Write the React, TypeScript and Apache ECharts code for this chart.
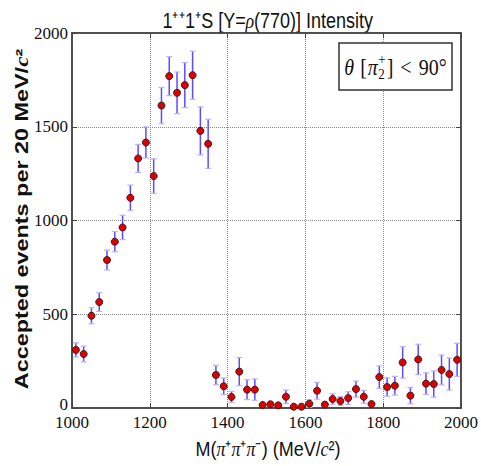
import React, { useEffect, useRef } from 'react';
import * as echarts from 'echarts';

// Bin centres (MeV/c^2), 20 MeV bins
const masses = [
  1010, 1030, 1050, 1070, 1090, 1110, 1130, 1150, 1170, 1190,
  1210, 1230, 1250, 1270, 1290, 1310, 1330, 1350, 1370, 1390,
  1410, 1430, 1450, 1470, 1490, 1510, 1530, 1550, 1570, 1590,
  1610, 1630, 1650, 1670, 1690, 1710, 1730, 1750, 1770, 1790,
  1810, 1830, 1850, 1870, 1890, 1910, 1930, 1950, 1970, 1990,
];
// Accepted events per bin
const counts = [
  310, 288, 492, 565, 789, 887, 963, 1121, 1331, 1416,
  1237, 1613, 1770, 1681, 1722, 1775, 1478, 1409, 176, 116,
  59, 194, 98, 98, 16, 20, 14, 60, 7, 7,
  23, 92, 18, 48, 37, 53, 101, 60, 21, 165,
  112, 119, 243, 66, 259, 130, 128, 203, 181, 257,
];
// Statistical errors (half-length of bars)
const errors = [
  38, 42, 43, 50, 53, 54, 65, 68, 75, 83,
  92, 97, 104, 111, 120, 128, 128, 131, 52, 44,
  30, 75, 53, 57, 8, 8, 6, 36, 5, 5,
  21, 45, 8, 28, 23, 34, 43, 34, 10, 60,
  49, 50, 84, 44, 81, 58, 70, 80, 86, 88,
];

const xMin = 1000, xMax = 2000, xStep = 200;
const yMin = 0, yMax = 2000, yStep = 500;

const titleText = '1⁺⁺1⁺S [Y={i|ρ}(770)] Intensity';
const xNameText = 'M({i|π}⁺{i|π}⁺{i|π}⁻) (MeV/{i|c}²)';
const yNameText = 'Accepted events per 20 MeV/{i|c}²';

function measure(text: string, font: string): number {
  const c = document.createElement('canvas').getContext('2d');
  if (!c) return text.length * 8;
  c.font = font;
  return c.measureText(text).width;
}

export default function App() {
  const ref = useRef<HTMLDivElement>(null);

  useEffect(() => {
    const chart = echarts.init(ref.current!, null, { renderer: 'svg' });

    // Legend box text layout
    const fs = 20;
    const fsSmall = 13;
    const serif = '"Liberation Serif", "DejaVu Serif", serif';
    const fItal = `italic ${fs}px ${serif}`;
    const fNorm = `${fs}px ${serif}`;
    const fSmall = `${fsSmall}px ${serif}`;
    const pieces: any[] = [];
    let cx = 0;
    const add = (t: string, font: string, italic: boolean) => {
      const w = measure(t, font);
      pieces.push({ t, x: cx, dy: 0, italic, size: fs });
      cx += w;
      return w;
    };
    add('θ', fItal, true);
    cx += 6;
    add('[', fNorm, false);
    cx += 1;
    add('π', fItal, true);
    const supW = measure('+', fSmall);
    const subW = measure('2', fSmall);
    pieces.push({ t: '+', x: cx + 0.5, dy: -7, italic: false, size: fsSmall });
    pieces.push({ t: '2', x: cx + 0.5, dy: 6, italic: false, size: fsSmall });
    cx += Math.max(supW, subW) + 1.5;
    add(']', fNorm, false);
    cx += 7;
    add('<', fNorm, false);
    cx += 7;
    add('90°', fNorm, false);
    const total = cx;
    const boxX = 339, boxY = 43, boxW = 113, boxH = 47;
    const startX = boxX + boxW / 2 - total / 2;
    const legendChildren = pieces.map((p) => ({
      type: 'text',
      x: startX + p.x,
      y: p.dy,
      z: 20,
      style: {
        text: p.t,
        fontFamily: 'Liberation Serif',
        fontStyle: p.italic ? 'italic' : 'normal',
        fontSize: p.size,
        fill: '#111',
        align: 'left',
        verticalAlign: 'middle',
      },
    }));

    const errData = masses.map((m, i) => [m, counts[i], errors[i]]);
    const ptData = masses.map((m, i) => [m, counts[i]]);

    const frameColor = '#444';
    const plain = (v: number) => String(v);
    const yFmt = (v: number) => (v === yMin ? `{z|${v}}` : String(v));

    const option: any = {
      animation: false,
      backgroundColor: '#fff',
      grid: {
        left: 72, right: 16, top: 33, bottom: 58,
        show: true, borderColor: frameColor, borderWidth: 1.5,
        backgroundColor: '#fff',
      },
      xAxis: [
        {
          type: 'value', min: xMin, max: xMax, interval: xStep, position: 'bottom',
          axisLine: { show: true, onZero: false, lineStyle: { color: frameColor, width: 1.5 } },
          axisTick: { show: true, inside: true, length: 5, lineStyle: { color: frameColor } },
          axisLabel: {
            color: '#111', fontFamily: 'Liberation Serif', fontSize: 17, margin: 8, lineHeight: 13,
            showMinLabel: true, showMaxLabel: true, formatter: plain,
          },
          splitLine: { show: true, lineStyle: { type: 'dotted', color: '#8a8a8a', width: 1 } },
        },
        {
          type: 'value', min: xMin, max: xMax, interval: xStep, position: 'top',
          axisLine: { show: true, onZero: false, lineStyle: { color: frameColor, width: 1.5 } },
          axisTick: { show: true, inside: true, length: 5, lineStyle: { color: frameColor } },
          axisLabel: { show: false },
          splitLine: { show: false },
        },
      ],
      yAxis: [
        {
          type: 'value', min: yMin, max: yMax, interval: yStep, position: 'left',
          axisLine: { show: true, onZero: false, lineStyle: { color: frameColor, width: 1.5 } },
          axisTick: { show: true, inside: true, length: 5, lineStyle: { color: frameColor } },
          axisLabel: {
            color: '#111', fontFamily: 'Liberation Serif', fontSize: 17, margin: 4, lineHeight: 13,
            showMinLabel: true, showMaxLabel: true, formatter: yFmt,
            rich: {
              z: {
                color: '#111', fontFamily: 'Liberation Serif', fontSize: 17, lineHeight: 13,
                padding: [0, 0, 7, 0],
              },
            },
          },
          splitLine: { show: true, lineStyle: { type: 'dotted', color: '#8a8a8a', width: 1 } },
        },
        {
          type: 'value', min: yMin, max: yMax, interval: yStep, position: 'right',
          axisLine: { show: true, onZero: false, lineStyle: { color: frameColor, width: 1.5 } },
          axisTick: { show: true, inside: true, length: 5, lineStyle: { color: frameColor } },
          axisLabel: { show: false },
          splitLine: { show: false },
        },
      ],
      series: [
        {
          type: 'custom',
          xAxisIndex: 0, yAxisIndex: 0,
          data: errData,
          encode: { x: 0, y: 1 },
          clip: true,
          z: 2,
          renderItem: (params: any, api: any) => {
            const x = api.value(0);
            const y = api.value(1);
            const e = api.value(2);
            const top = api.coord([x, y + e]);
            const bot = api.coord([x, Math.max(0, y - e)]);
            const cap = 3;
            return {
              type: 'group',
              children: [
                {
                  type: 'line',
                  shape: { x1: top[0], y1: top[1], x2: bot[0], y2: bot[1] },
                  style: { stroke: '#5a4dff', lineWidth: 1.5 },
                },
                {
                  type: 'line',
                  shape: { x1: top[0] - cap, y1: top[1], x2: top[0] + cap, y2: top[1] },
                  style: { stroke: '#b9b2ff', lineWidth: 1.2 },
                },
                {
                  type: 'line',
                  shape: { x1: bot[0] - cap, y1: bot[1], x2: bot[0] + cap, y2: bot[1] },
                  style: { stroke: '#b9b2ff', lineWidth: 1.2 },
                },
              ],
            };
          },
        },
        {
          type: 'scatter',
          xAxisIndex: 0, yAxisIndex: 0,
          data: ptData,
          symbol: 'circle',
          symbolSize: 7,
          z: 3,
          itemStyle: { color: '#dd0000', borderColor: '#4a1515', borderWidth: 1, opacity: 1 },
        },
      ],
      graphic: [
        {
          type: 'text',
          x: 268, y: 20, scaleY: 1.22,
          style: {
            text: titleText,
            fontFamily: 'Liberation Sans', fontSize: 18, fill: '#111',
            align: 'center', verticalAlign: 'middle',
            rich: { i: { fontFamily: 'Liberation Serif', fontStyle: 'italic', fontSize: 18, fill: '#111' } },
          },
        },
        {
          type: 'text',
          x: 268, y: 449, scaleY: 1.15,
          style: {
            text: xNameText,
            fontFamily: 'Liberation Sans', fontSize: 18, fill: '#111',
            align: 'center', verticalAlign: 'middle',
            rich: { i: { fontFamily: 'Liberation Serif', fontStyle: 'italic', fontSize: 18, fill: '#111' } },
          },
        },
        {
          type: 'text',
          x: 22, y: 219, rotation: Math.PI / 2, scaleX: 1.3,
          style: {
            text: yNameText,
            fontFamily: 'Liberation Sans', fontWeight: 'bold', fontSize: 18, fill: '#111',
            align: 'center', verticalAlign: 'middle',
            rich: { i: { fontFamily: 'Liberation Serif', fontStyle: 'italic', fontWeight: 'bold', fontSize: 18, fill: '#111' } },
          },
        },
        {
          type: 'rect',
          shape: { x: boxX, y: boxY, width: boxW, height: boxH },
          style: { fill: '#fff', stroke: '#333', lineWidth: 1.5 },
          z: 10,
        },
        {
          type: 'group',
          x: 0, y: boxY + boxH / 2 + 1, scaleY: 1.15,
          z: 20,
          children: legendChildren,
        },
      ],
    };

    chart.setOption(option);
    return () => chart.dispose();
  }, []);

  return (
    <div
      ref={ref}
      style={{ position: 'absolute', left: 0, top: 0, width: 481, height: 466, background: '#fff' }}
    />
  );
}
